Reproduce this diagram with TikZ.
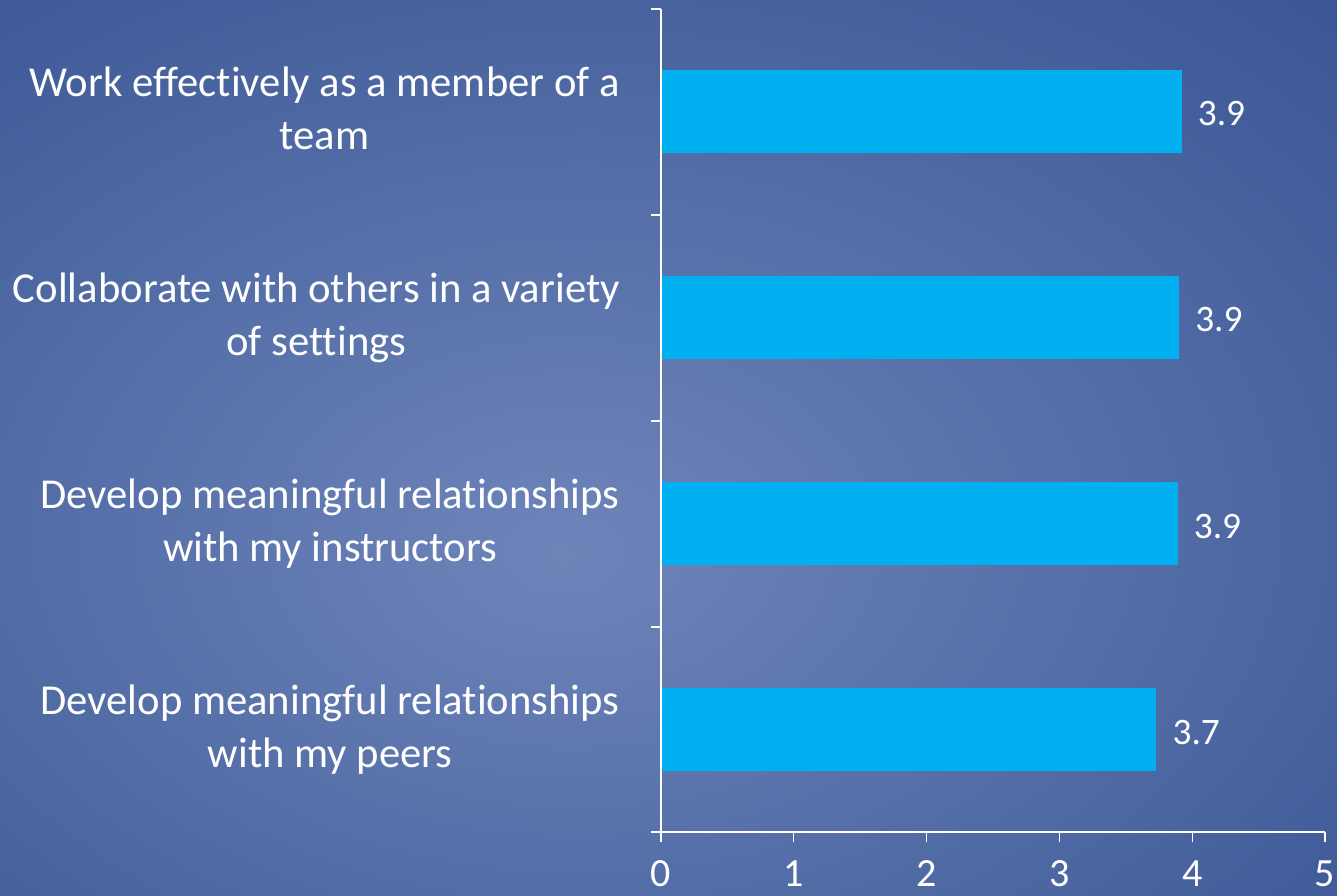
\documentclass[tikz,border=0pt]{standalone}
\usepackage{fontspec}
\setmainfont{Carlito}[Ligatures=NoCommon]

\definecolor{bglight}{RGB}{110,133,186}
\definecolor{bgdark}{RGB}{44,74,138}
\definecolor{barblue}{HTML}{00B0F0}
\pgfdeclareradialshading{slidebg}{\pgfpoint{-4bp}{-6bp}}{color(0bp)=(bglight); color(50bp)=(bgdark); color(100bp)=(bgdark)}

\tikzset{
  catlabel/.style={anchor=base east, align=center, inner sep=0pt, text=white, font=\fontsize{32}{40}\selectfont},
  vallabel/.style={anchor=base west, inner sep=0pt, text=white, font=\fontsize{28}{34}\selectfont},
  ticklabel/.style={anchor=base, inner sep=0pt, text=white, font=\fontsize{30}{36}\selectfont},
  axisline/.style={white, line width=0.9pt},
  barbox/.style={fill=barblue, draw=none}
}

\begin{document}
\begin{tikzpicture}[x=0.75pt, y=0.75pt]
%Background
\useasboundingbox (0,0) rectangle (1337,895);
\shade[shading=slidebg] (0,0) rectangle (1337,895);

%Coordinates
\coordinate (origin) at (661,63);
\coordinate (ytop) at (661,886);
\coordinate (xend) at (1325,63);

\coordinate (ytick0) at (651,63);
\coordinate (ytick1) at (651,268);
\coordinate (ytick2) at (651,474);
\coordinate (ytick3) at (651,680);
\coordinate (ytick4) at (651,886);

\coordinate (xtick0) at (661,53);
\coordinate (xtick1) at (793.8,53);
\coordinate (xtick2) at (926.6,53);
\coordinate (xtick3) at (1059.4,53);
\coordinate (xtick4) at (1192.2,53);
\coordinate (xtick5) at (1325,53);

%Bars
\coordinate (barTeamS) at (661,742);
\coordinate (barTeamE) at (1181.6,825);
\coordinate (barSettingsS) at (661,536);
\coordinate (barSettingsE) at (1179,619);
\coordinate (barInstructorsS) at (661,329.5);
\coordinate (barInstructorsE) at (1177.6,412.5);
\coordinate (barPeersS) at (661,123.5);
\coordinate (barPeersE) at (1156.3,206.5);

\path[barbox] (barTeamS) rectangle (barTeamE);
\path[barbox] (barSettingsS) rectangle (barSettingsE);
\path[barbox] (barInstructorsS) rectangle (barInstructorsE);
\path[barbox] (barPeersS) rectangle (barPeersE);

%Nodes
\node[catlabel] (labelTeam) at (620,745) {Work effectively as a member of a\\team};
\node[catlabel] (labelSettings) at (620,539) {Collaborate with others in a variety\\of settings};
\node[catlabel] (labelInstructors) at (620,333) {Develop meaningful relationships\\with my instructors};
\node[catlabel] (labelPeers) at (620,127) {Develop meaningful relationships\\with my peers};

\node[vallabel] (valTeam) at (1197.6,769) {3.9};
\node[vallabel] (valSettings) at (1195,563) {3.9};
\node[vallabel] (valInstructors) at (1193.6,356.5) {3.9};
\node[vallabel] (valPeers) at (1172.3,150.5) {3.7};

\node[ticklabel] (num0) at (661,8) {0};
\node[ticklabel] (num1) at (793.8,8) {1};
\node[ticklabel] (num2) at (926.6,8) {2};
\node[ticklabel] (num3) at (1059.4,8) {3};
\node[ticklabel] (num4) at (1192.2,8) {4};
\node[ticklabel] (num5) at (1325,8) {5};

%Lines
\draw[axisline] (origin) -- (ytop);
\draw[axisline] (origin) -- (xend);

\draw[axisline] (ytick0) -- (origin);
\draw[axisline] (ytick1) -- ++(10,0);
\draw[axisline] (ytick2) -- ++(10,0);
\draw[axisline] (ytick3) -- ++(10,0);
\draw[axisline] (ytick4) -- (ytop);

\draw[axisline] (xtick0) -- (origin);
\draw[axisline] (xtick1) -- ++(0,10);
\draw[axisline] (xtick2) -- ++(0,10);
\draw[axisline] (xtick3) -- ++(0,10);
\draw[axisline] (xtick4) -- ++(0,10);
\draw[axisline] (xtick5) -- (xend);
\end{tikzpicture}
\end{document}
